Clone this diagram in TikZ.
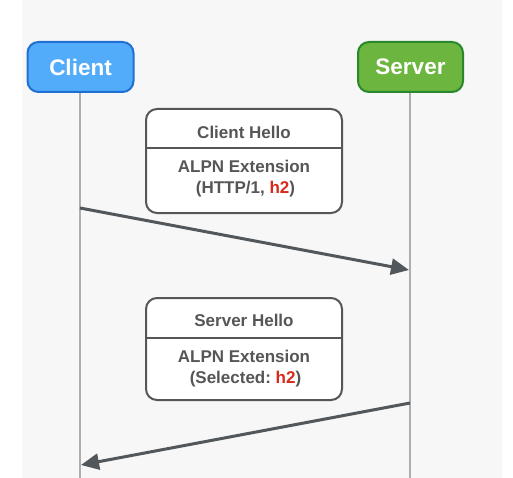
\documentclass[tikz,border=0pt]{standalone}
\usepackage{fontspec}
\setmainfont{Liberation Sans}
\usetikzlibrary{arrows.meta}
\definecolor{bgc}{HTML}{F7F7F7}
\definecolor{cfill}{HTML}{52ACFA}
\definecolor{cdraw}{HTML}{1F70D2}
\definecolor{sfill}{HTML}{6CB53E}
\definecolor{sdraw}{HTML}{2A882C}
\definecolor{life}{HTML}{AFAFAF}
\definecolor{msgc}{HTML}{565656}
\definecolor{arrc}{HTML}{52575B}
\definecolor{hred}{HTML}{D9291C}
\frenchspacing
\tikzset{
  actor/.style={rounded corners=11pt, line width=2pt, minimum height=50pt,
    font=\fontsize{22.5}{26}\selectfont\bfseries, text=white, inner sep=0pt},
  lifeline/.style={draw=life, line width=2.5pt},
  msgbox/.style={draw=msgc, fill=white, rounded corners=11pt, line width=2pt, minimum width=196pt},
  divider/.style={draw=msgc, line width=2pt},
  msgtxt/.style={font=\fontsize{17}{21}\selectfont\bfseries, text=msgc, align=center, inner sep=0pt},
  msgarrow/.style={draw=arrc, line width=3pt, -{Triangle[length=18pt,width=16pt]}},
}
\begin{document}
\begin{tikzpicture}[x=1pt,y=-1pt]
\useasboundingbox (0,0) rectangle (513,478);
\fill[white] (0,0) rectangle (513,478);
\fill[bgc] (22,0) rectangle (502,478);
% lifelines (drawn first, under the actor boxes)
\coordinate (ctop) at (80,67);
\coordinate (stop) at (410,67);
\coordinate (cend) at (80,478);
\coordinate (send) at (410,478);
\draw[lifeline] (ctop) -- (cend);
\draw[lifeline] (stop) -- (send);
% actors
\node[actor, fill=cfill, draw=cdraw, minimum width=106pt] (client) at (80.5,67) {Client};
\node[actor, fill=sfill, draw=sdraw, minimum width=105pt] (server) at (410.5,67) {Server};
% Client Hello
\node[msgbox, minimum height=104pt] (ch) at (244,161) {};
\coordinate (chdl) at (146,148);
\coordinate (chdr) at (342,148);
\draw[divider] (chdl) -- (chdr);
\node[msgtxt] (chtitle) at (244,132) {Client Hello};
\node[msgtxt] (chbody) at (244,179) {ALPN Extension\\\hspace*{3pt}(HTTP/1, \textcolor{hred}{h2})};
% Server Hello
\node[msgbox, minimum height=102pt] (sh) at (244,349) {};
\coordinate (shdl) at (146,338);
\coordinate (shdr) at (342,338);
\draw[divider] (shdl) -- (shdr);
\node[msgtxt] (shtitle) at (244,320) {Server Hello};
\node[msgtxt] (shbody) at (244,368.5) {ALPN Extension\\\hspace*{3pt}(Selected: \textcolor{hred}{h2})};
% arrows
\coordinate (a1s) at (80,208);
\coordinate (a1e) at (409,270);
\coordinate (a2s) at (410,403);
\coordinate (a2e) at (81,465);
\draw[msgarrow] (a1s) -- (a1e);
\draw[msgarrow] (a2s) -- (a2e);
\end{tikzpicture}
\end{document}
